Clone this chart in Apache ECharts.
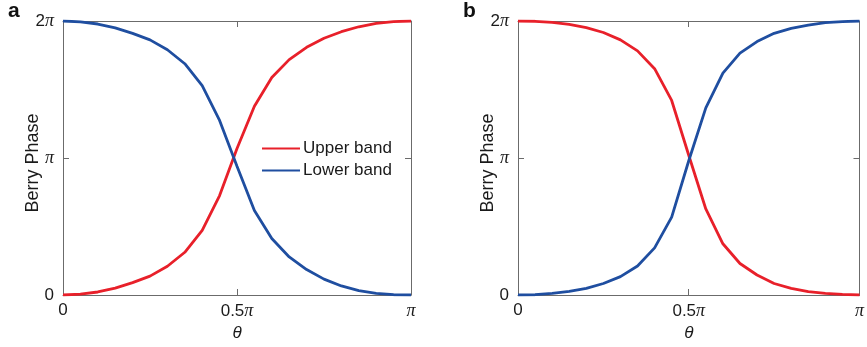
<!DOCTYPE html>
<html>
<head>
<meta charset="utf-8">
<style>
  html, body { margin: 0; padding: 0; background: #fff; }
  #chart { width: 867px; height: 347px; }
</style>
<script src="https://cdn.jsdelivr.net/npm/echarts@6/dist/echarts.min.js"></script>
</head>
<body>
<div id="chart"></div>
<script>
// theta in units of pi, Berry phase in units of pi
const theta = [0, 0.05, 0.1, 0.15, 0.2, 0.25, 0.3, 0.35, 0.4, 0.45, 0.5,
               0.55, 0.6, 0.65, 0.7, 0.75, 0.8, 0.85, 0.9, 0.95, 1.0];

const upperA = [0, 0.006, 0.022, 0.05, 0.09, 0.138, 0.21, 0.312, 0.472, 0.726, 1.07,
                1.378, 1.588, 1.718, 1.808, 1.874, 1.922, 1.958, 1.982, 1.996, 2.0];
const lowerA = [2.0, 1.994, 1.978, 1.95, 1.91, 1.862, 1.79, 1.688, 1.528, 1.274, 0.94,
                0.616, 0.412, 0.278, 0.186, 0.116, 0.066, 0.032, 0.012, 0.002, 0];

const upperB = [2.0, 1.998, 1.99, 1.976, 1.952, 1.916, 1.862, 1.782, 1.652, 1.42, 1.02,
                0.628, 0.374, 0.23, 0.146, 0.084, 0.048, 0.024, 0.012, 0.004, 0];
const lowerB = [0, 0.002, 0.012, 0.026, 0.048, 0.084, 0.134, 0.212, 0.344, 0.568, 0.98,
                1.366, 1.62, 1.766, 1.85, 1.91, 1.946, 1.97, 1.988, 1.996, 2.0];

const xTickLabels = { 0: '0', 0.5: '0.5{p|π}', 1: '{p|π}' };
const yTickLabels = { 0: '0', 1: '{p|π}', 2: '2{p|π}' };
const panelLetters = ['a', 'b'];

const RED = '#e8202a';
const BLUE = '#1f4ea0';
const FRAME = '#6b6b6b';
const TEXT = '#1a1a1a';
const FONT = 'Liberation Sans, Arial, Helvetica, sans-serif';
const FS = 17;

const chart = echarts.init(document.getElementById('chart'), null, { renderer: 'canvas' });

const grids = [
  { left: 63, right: 456, top: 21, bottom: 50 },
  { left: 518, right: 2, top: 21, bottom: 50 }
];

const piRich = { p: { fontFamily: 'Liberation Serif, serif', fontStyle: 'italic', fontSize: FS + 1, color: TEXT } };

function pair(arr) { return theta.map((t, i) => [t, arr[i]]); }

const frameLine = { show: true, onZero: false, lineStyle: { color: FRAME, width: 1 } };
const frameTick = { show: true, inside: true, length: 6, lineStyle: { color: FRAME } };

const xAxes = [], yAxes = [];
grids.forEach((g, gi) => {
  // bottom axis with labels
  xAxes.push({
    gridIndex: gi, type: 'value', min: 0, max: 1, interval: 0.5, position: 'bottom',
    name: 'θ', nameLocation: 'middle', nameGap: 30, nameMoveOverlap: false,
    nameTextStyle: { fontFamily: FONT, fontStyle: 'italic', fontSize: FS, color: TEXT },
    axisLine: frameLine, axisTick: frameTick,
    axisLabel: { show: true, margin: 7, fontFamily: FONT, fontSize: FS, color: TEXT,
                 formatter: v => xTickLabels[v] ?? '', rich: piRich },
    splitLine: { show: false }
  });
  // top frame edge
  xAxes.push({
    gridIndex: gi, type: 'value', min: 0, max: 1, interval: 0.5, position: 'top',
    axisLine: frameLine, axisTick: frameTick,
    axisLabel: { show: false }, splitLine: { show: false }
  });
  // left axis with labels
  yAxes.push({
    gridIndex: gi, type: 'value', min: 0, max: 2, interval: 1, position: 'left',
    name: 'Berry Phase', nameLocation: 'middle', nameGap: 21, nameRotate: 90,
    nameMoveOverlap: false,
    nameTextStyle: { fontFamily: FONT, fontSize: 18, color: TEXT, padding: [0, 10, 0, 0] },
    axisLine: frameLine, axisTick: frameTick,
    axisLabel: { show: true, margin: 9, fontFamily: FONT, fontSize: FS, color: TEXT,
                 formatter: v => yTickLabels[v] ?? '', rich: piRich },
    splitLine: { show: false }
  });
  // right frame edge
  yAxes.push({
    gridIndex: gi, type: 'value', min: 0, max: 2, interval: 1, position: 'right',
    axisLine: frameLine, axisTick: frameTick,
    axisLabel: { show: false }, splitLine: { show: false }
  });
});

function line(name, data, color, gi) {
  return {
    name, type: 'line', xAxisIndex: gi * 2, yAxisIndex: gi * 2,
    data: pair(data), symbol: 'none', smooth: false,
    lineStyle: { color, width: 2.8 }, itemStyle: { color },
    z: name === 'Lower band' ? 3 : 2
  };
}

chart.setOption({
  animation: false,
  backgroundColor: '#fff',
  grid: grids,
  xAxis: xAxes,
  yAxis: yAxes,
  legend: {
    data: ['Upper band', 'Lower band'],
    orient: 'vertical', left: 257, top: 135,
    itemWidth: 38, itemHeight: 20, itemGap: 5,
    icon: 'path://M0,9 L40,9 L40,11 L0,11 Z',
    textStyle: { fontFamily: FONT, fontSize: FS, color: TEXT, padding: [0, 0, 0, -2] },
    selectedMode: false
  },
  graphic: panelLetters.map((t, i) => ({
    type: 'text', left: i === 0 ? 8 : 463, top: 1,
    style: { text: t, fontFamily: FONT, fontWeight: 'bold', fontSize: 21, fill: '#111' }
  })),
  series: [
    line('Upper band', upperA, RED, 0),
    line('Lower band', lowerA, BLUE, 0),
    line('Upper band', upperB, RED, 1),
    line('Lower band', lowerB, BLUE, 1)
  ]
});
</script>
</body>
</html>
